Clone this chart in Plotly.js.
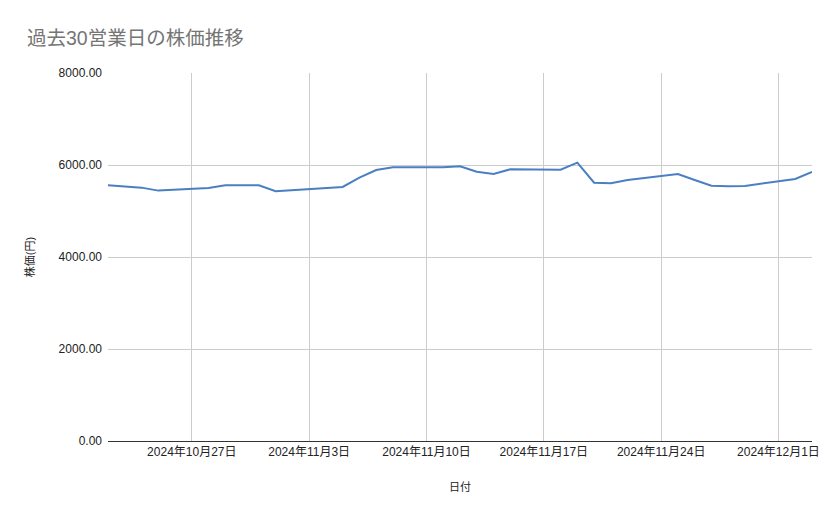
<!DOCTYPE html>
<html>
<head>
<meta charset="utf-8">
<script src="https://cdn.plot.ly/plotly-3.0.1.min.js"></script>
<style>
  html, body { margin: 0; padding: 0; background: #fff; }
  #chart { width: 839px; height: 519px; }
</style>
</head>
<body>
<div id="chart"></div>
<script>
// 30 business days (Nov 4 is a holiday)
const dates = [
  '2024-10-22', '2024-10-23', '2024-10-24', '2024-10-25',
  '2024-10-28', '2024-10-29', '2024-10-30', '2024-10-31', '2024-11-01',
  '2024-11-05', '2024-11-06', '2024-11-07', '2024-11-08',
  '2024-11-11', '2024-11-12', '2024-11-13', '2024-11-14', '2024-11-15',
  '2024-11-18', '2024-11-19', '2024-11-20', '2024-11-21', '2024-11-22',
  '2024-11-25', '2024-11-26', '2024-11-27', '2024-11-28', '2024-11-29',
  '2024-12-02', '2024-12-03'
];
const prices = [
  5559, 5533, 5508, 5443,
  5500, 5559, 5559, 5559, 5428,
  5522, 5725, 5891, 5949,
  5949, 5971, 5855, 5804, 5906,
  5899, 6051, 5616, 5601, 5674,
  5804, 5674, 5550, 5537, 5544,
  5696, 5848
];

// Weekly tick marks (Sundays)
const tickDates = ['2024-10-27', '2024-11-03', '2024-11-10', '2024-11-17', '2024-11-24', '2024-12-01'];
const tickLabels = ['2024年10月27日', '2024年11月3日', '2024年11月10日', '2024年11月17日', '2024年11月24日', '2024年12月1日'];

const fontFamily = '"Liberation Sans", Arial, "Noto Sans CJK JP", sans-serif';

const trace = {
  x: dates,
  y: prices,
  type: 'scatter',
  mode: 'lines',
  line: { color: '#4a7fc3', width: 2 },
  hoverinfo: 'x+y'
};

const layout = {
  width: 839,
  height: 519,
  paper_bgcolor: '#ffffff',
  plot_bgcolor: '#ffffff',
  font: { family: fontFamily, color: '#222222', size: 12 },
  margin: { l: 108, r: 27, t: 73, b: 78 },
  showlegend: false,
  title: {
    text: '過去30営業日の株価推移',
    x: 27 / 839, xref: 'container', xanchor: 'left',
    y: 1 - 38 / 519, yref: 'container', yanchor: 'middle',
    font: { family: fontFamily, size: 19.5, color: '#757575' }
  },
  xaxis: {
    type: 'date',
    range: ['2024-10-22', '2024-12-03'],
    tickvals: tickDates,
    ticktext: tickLabels,
    showgrid: true,
    gridcolor: '#cccccc',
    gridwidth: 1,
    showline: true,
    linecolor: '#333333',
    linewidth: 1,
    ticks: '',
    tickfont: { size: 12, color: '#222222' },
    title: { text: '日付', font: { size: 11, color: '#222222' }, standoff: 24 },
    zeroline: false,
    fixedrange: true
  },
  yaxis: {
    range: [0, 8000],
    dtick: 2000,
    tick0: 0,
    tickformat: '.2f',
    showgrid: true,
    gridcolor: '#cccccc',
    gridwidth: 1,
    zeroline: false,
    showline: false,
    ticks: '',
    ticklabelstandoff: 5,
    tickfont: { size: 12, color: '#222222' },
    title: { text: '株価(円)', font: { size: 11, color: '#222222' }, standoff: 21 },
    fixedrange: true
  }
};

Plotly.newPlot('chart', [trace], layout, { displayModeBar: false, staticPlot: true });
</script>
</body>
</html>
